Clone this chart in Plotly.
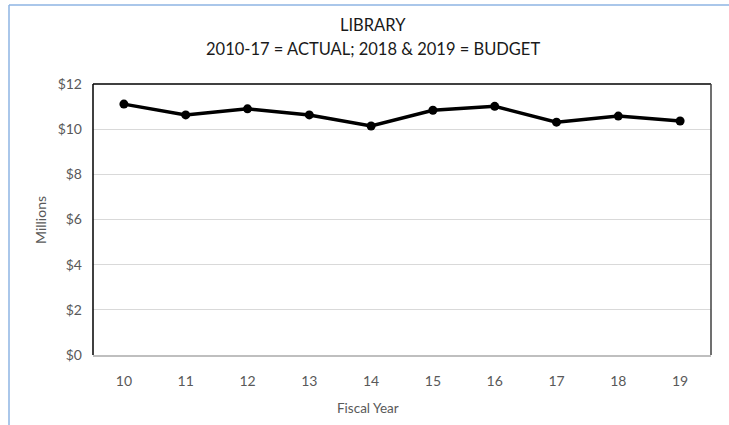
import plotly.graph_objects as go

# Library spending by fiscal year ($ millions); 2010-17 actual, 2018-19 budget
fiscal_years = ["10", "11", "12", "13", "14", "15", "16", "17", "18", "19"]
spending_millions = [11.11, 10.63, 10.90, 10.63, 10.14, 10.84, 11.01, 10.31, 10.58, 10.36]
y_tick_values = [0, 2, 4, 6, 8, 10, 12]
y_tick_labels = ["$0", "$2", "$4", "$6", "$8", "$10", "$12"]

FONT = "Lato, Carlito, Calibri, sans-serif"
W, H = 729, 425
L, R, T, B = 93, 18, 84, 70
pw, ph = W - L - R, H - T - B


def px_to_paper_x(px):
    return (px - L) / pw


def px_to_paper_y(py):
    return (H - B - py) / ph


fig = go.Figure()
fig.add_trace(go.Scatter(
    x=fiscal_years,
    y=spending_millions,
    mode="lines+markers",
    line=dict(color="black", width=3.5),
    marker=dict(color="black", size=9),
    hoverinfo="x+y",
))

fig.update_layout(
    width=W, height=H,
    margin=dict(l=L, r=R, t=T, b=B),
    paper_bgcolor="white",
    plot_bgcolor="white",
    showlegend=False,
    font=dict(family=FONT, color="#595959", size=14),
    xaxis=dict(
        type="category",
        range=[-0.5, 9.5],
        showgrid=False,
        showline=True,
        linecolor="#bfbfbf",
        linewidth=1.5,
        ticks="",
        tickfont=dict(size=14, color="#595959"),
        ticklabelstandoff=12,
    ),
    yaxis=dict(
        range=[0, 12],
        tickvals=y_tick_values,
        ticktext=y_tick_labels,
        showgrid=True,
        gridcolor="#d9d9d9",
        gridwidth=1,
        zeroline=False,
        showline=False,
        ticks="",
        tickfont=dict(size=14, color="#595959"),
        ticklabelstandoff=10,
    ),
)

# Title lines
title_x = px_to_paper_x(373)
fig.add_annotation(text="LIBRARY", x=title_x, y=px_to_paper_y(25),
                   xref="paper", yref="paper", showarrow=False,
                   font=dict(family=FONT, size=16.5, color="#1a1a1a"),
                   xanchor="center", yanchor="middle")
fig.add_annotation(text="2010-17 = ACTUAL; 2018 &amp; 2019 = BUDGET",
                   x=title_x, y=px_to_paper_y(49),
                   xref="paper", yref="paper", showarrow=False,
                   font=dict(family=FONT, size=16.5, color="#1a1a1a"),
                   xanchor="center", yanchor="middle")

# Axis titles
fig.add_annotation(text="Millions", x=px_to_paper_x(40), y=px_to_paper_y(220),
                   xref="paper", yref="paper", showarrow=False, textangle=-90,
                   font=dict(family=FONT, size=14, color="#595959"),
                   xanchor="center", yanchor="middle")
fig.add_annotation(text="Fiscal Year", x=px_to_paper_x(368), y=px_to_paper_y(408),
                   xref="paper", yref="paper", showarrow=False,
                   font=dict(family=FONT, size=13.5, color="#595959"),
                   xanchor="center", yanchor="middle")

# Plot-area frame: dark top, left and right edges
fig.add_shape(type="line", xref="paper", yref="paper", x0=0, x1=1, y0=1, y1=1,
              line=dict(color="black", width=1.5))
fig.add_shape(type="line", xref="paper", yref="paper", x0=0, x1=0, y0=0, y1=1,
              line=dict(color="black", width=1.5))
fig.add_shape(type="line", xref="paper", yref="paper", x0=1, x1=1, y0=0, y1=1,
              line=dict(color="#404040", width=1.5))

# Outer chart border (light blue)
fig.add_shape(type="line", xref="paper", yref="paper",
              x0=px_to_paper_x(9), x1=px_to_paper_x(9),
              y0=px_to_paper_y(5), y1=px_to_paper_y(440),
              line=dict(color="#8eb4e3", width=1.5))
fig.add_shape(type="line", xref="paper", yref="paper",
              x0=px_to_paper_x(9), x1=px_to_paper_x(740),
              y0=px_to_paper_y(5), y1=px_to_paper_y(5),
              line=dict(color="#8eb4e3", width=1.5))

fig.write_html("out.html")
